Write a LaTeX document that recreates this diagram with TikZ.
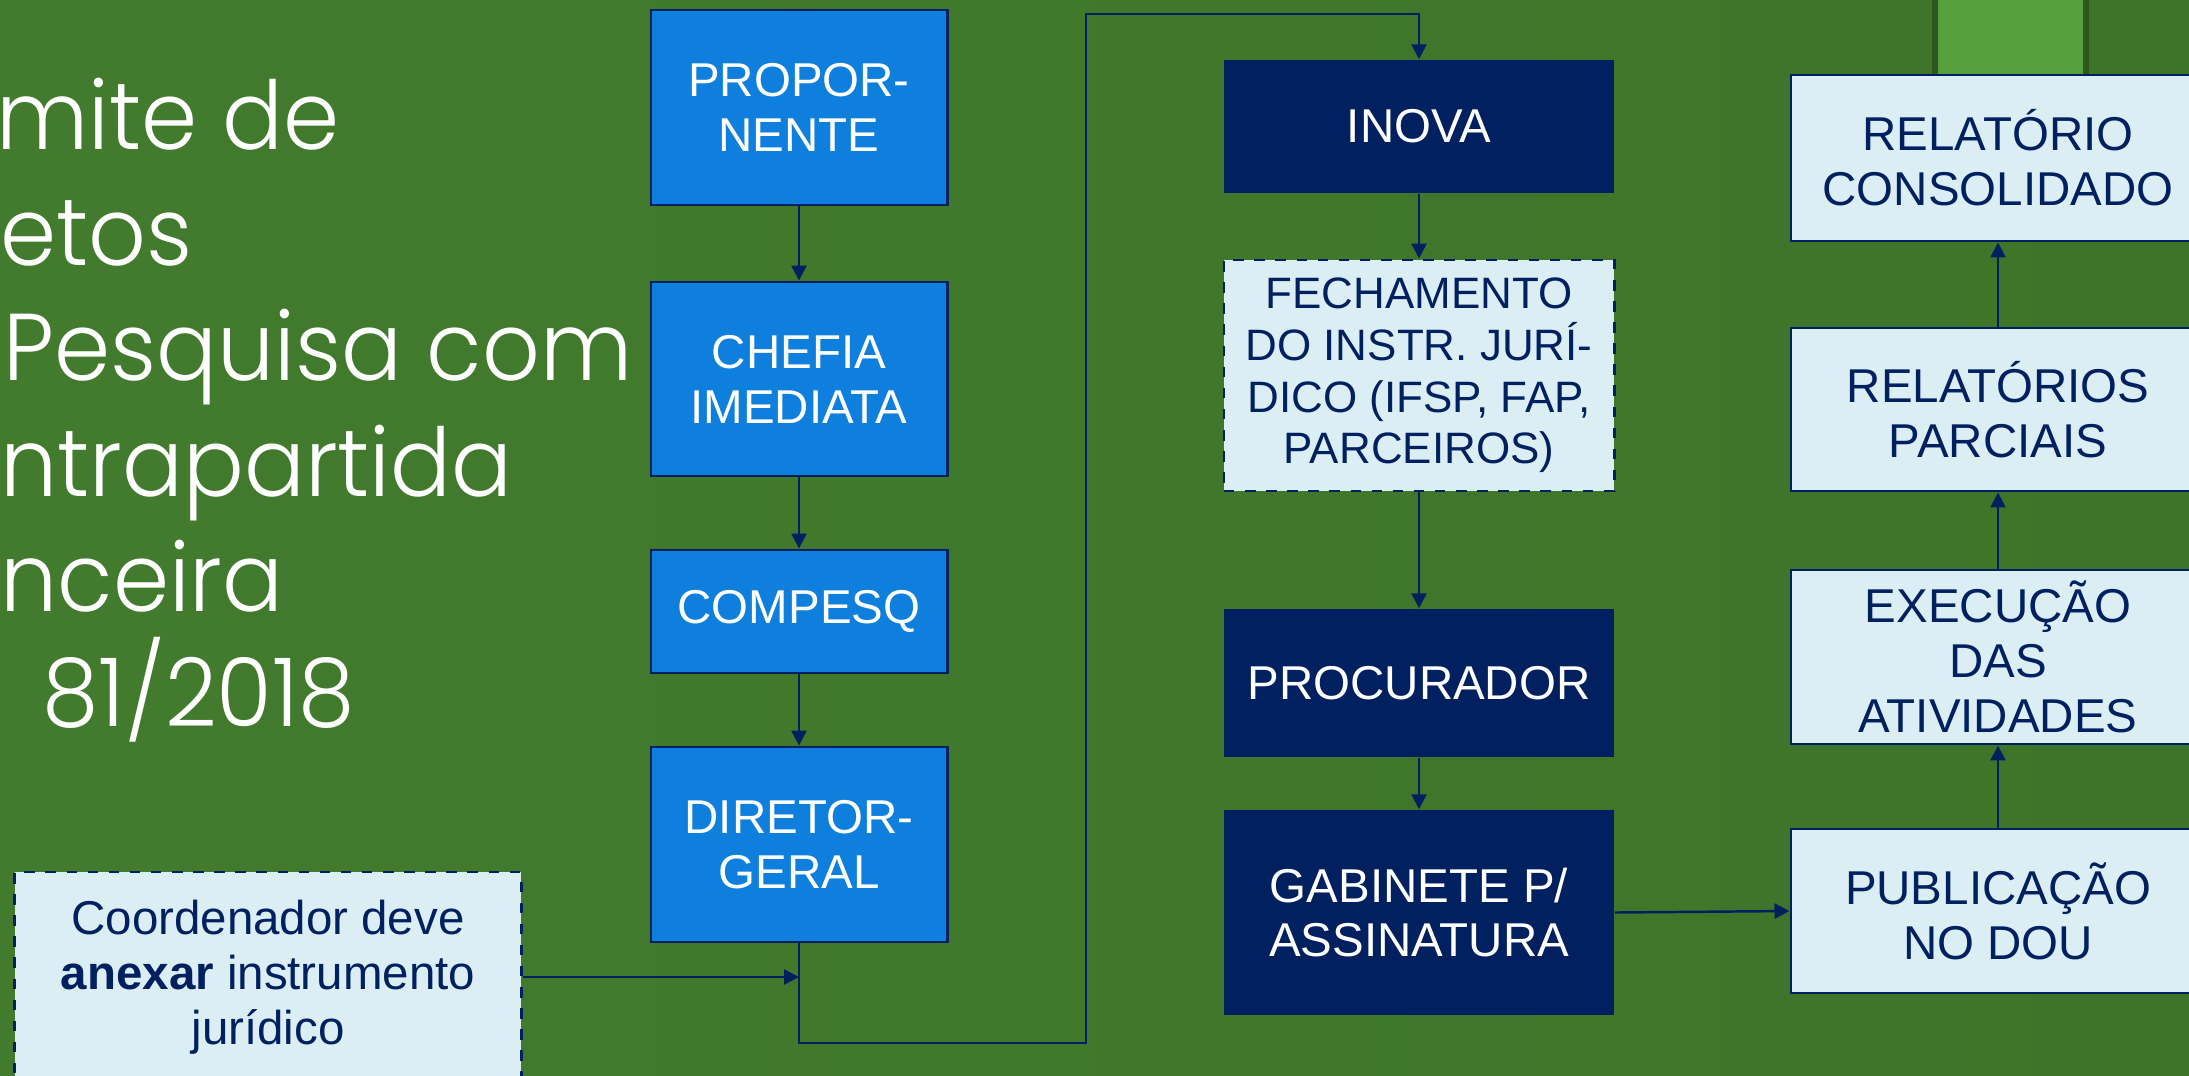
\documentclass[tikz,border=0pt]{standalone}
\usepackage{fontspec}
\setmainfont{Liberation Sans}
\newfontfamily\titlefont{Poppins Light}[FakeStretch=0.95]
\usetikzlibrary{arrows.meta}

\definecolor{navy}{HTML}{002060}
\definecolor{azul}{HTML}{0E7FDC}
\definecolor{claro}{HTML}{DAEEF3}
\definecolor{verdeA}{HTML}{427B2E}
\definecolor{verdeB}{HTML}{4A8A33}
\definecolor{verdeC}{HTML}{3E7429}
\definecolor{verdeD}{HTML}{55A03C}

\begin{document}
\begin{tikzpicture}[x=0.01cm,y=-0.01cm,
  base/.style={rectangle,inner sep=0pt,align=center,font=\fontsize{13.5}{15.6}\selectfont},
  azulbox/.style={base,fill=azul,draw=navy,line width=0.8pt,text=white,minimum width=2.96cm},
  navybox/.style={base,fill=navy,text=white,minimum width=3.9cm},
  clarobox/.style={base,fill=claro,draw=navy,line width=0.8pt,text=navy},
  nota/.style={clarobox,dashed},
  titulo/.style={inner sep=0pt,anchor=base west,text=white,font=\titlefont\fontsize{27}{31}\selectfont},
  seta/.style={draw=navy,line width=0.7pt,-{Triangle[length=0.15cm,width=0.15cm]}}]
  \useasboundingbox (0,0) rectangle (2189,1075);
  \clip (0,0) rectangle (2189,1075);
  \shade[left color=verdeA,middle color=verdeB,right color=verdeC] (0,0) rectangle (2189,1075);
  \fill[black,opacity=0.25] (1932,0) rectangle (2089,78);
  \fill[verdeD] (1938,0) rectangle (2083,75);

  % titulo
  \node[titulo] (t1) at (-4,149) {mite de};
  \node[titulo] (t2) at (0,265) {etos};
  \node[titulo] (t3) at (3,380) {Pesquisa com};
  \node[titulo] (t4) at (0,496) {ntrapartida};
  \node[titulo] (t5) at (0,611) {nceira};
  \node[titulo] (t6) at (42,726) {81/2018};

  % coluna 1
  \node[azulbox,minimum height=1.95cm] (prop) at (799,107.5) {PROPOR-\\NENTE};
  \node[azulbox,minimum height=1.94cm] (chefia) at (799,379) {CHEFIA\\IMEDIATA};
  \node[azulbox,minimum height=1.23cm] (compesq) at (799,611.5) {COMPESQ};
  \node[azulbox,minimum height=1.95cm] (dir) at (799,844.5) {DIRETOR-\\GERAL};
  \node[nota,minimum width=5.06cm,minimum height=2.1cm] (coord) at (268,977)
    {Coordenador deve\\\textbf{anexar} instrumento\\jurídico};

  % coluna 2
  \node[navybox,minimum height=1.33cm] (inova) at (1419,126.5) {INOVA};
  \node[nota,minimum width=3.9cm,minimum height=2.31cm,font=\fontsize{12.5}{14.7}\selectfont] (fech) at (1419,375.5)
    {FECHAMENTO\\DO INSTR. JURÍ-\\DICO (IFSP, FAP,\\PARCEIROS)};
  \node[navybox,minimum height=1.48cm] (proc) at (1419,683) {PROCURADOR};
  \node[navybox,minimum height=2.05cm] (gab) at (1419,912.5) {GABINETE P/\\ASSINATURA};

  % coluna 3
  \node[clarobox,minimum width=4.14cm,minimum height=1.66cm] (cons) at (1998,158) {RELATÓRIO\\CONSOLIDADO};
  \node[clarobox,minimum width=4.14cm,minimum height=1.63cm] (parc) at (1998,409.5) {RELATÓRIOS\\PARCIAIS};
  \node[clarobox,minimum width=4.14cm,minimum height=1.74cm] (exec) at (1998,657) {EXECUÇÃO\\DAS\\ATIVIDADES};
  \node[clarobox,minimum width=4.14cm,minimum height=1.64cm] (publ) at (1998,911) {PUBLICAÇÃO\\NO DOU};

  \coordinate (b1) at (1086,1043);
  \coordinate (b2) at (1086,14);

  \draw[seta] (prop) -- (chefia);
  \draw[seta] (chefia) -- (compesq);
  \draw[seta] (compesq) -- (dir);
  \draw[seta] (coord.east) -- (coord.east -| dir.south);
  \draw[seta] (dir.south) |- (b1) -- (b2) -| (inova.north);
  \draw[seta] (inova) -- (fech);
  \draw[seta] (fech) -- (proc);
  \draw[seta] (proc) -- (gab);
  \draw[seta] (gab.east) -- (publ.west);
  \draw[seta] (publ) -- (exec);
  \draw[seta] (exec) -- (parc);
  \draw[seta] (parc) -- (cons);
\end{tikzpicture}
\end{document}
